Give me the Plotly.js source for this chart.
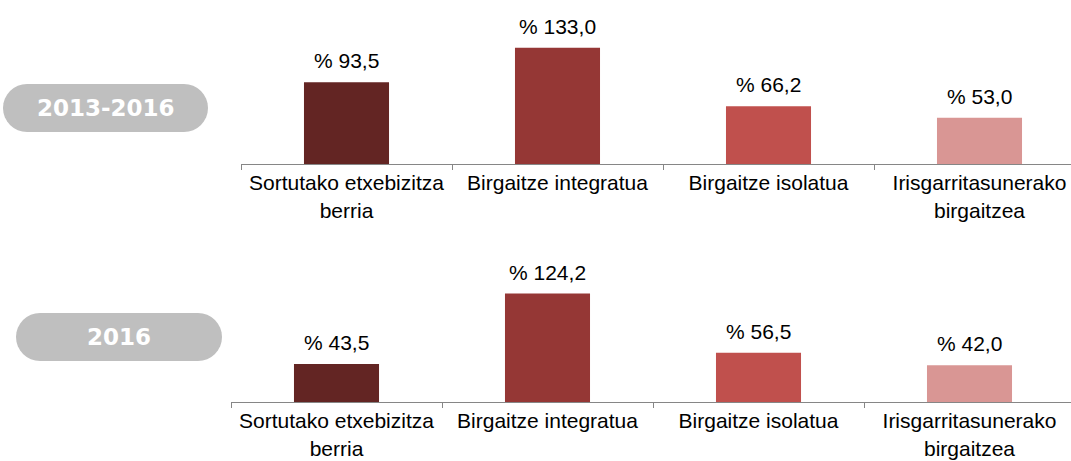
<!DOCTYPE html>
<html>
<head>
<meta charset="utf-8">
<script src="https://cdn.plot.ly/plotly-3.0.1.min.js"></script>
<style>html,body{margin:0;padding:0;background:#fff;}#chart{width:1071px;height:461px;}</style>
</head>
<body>
<div id="chart"></div>
<script>
var categories = ["Sortutako etxebizitza<br>berria", "Birgaitze integratua", "Birgaitze isolatua", "Irisgarritasunerako<br>birgaitzea"];
var values2013_2016 = [93.5, 133.0, 66.2, 53.0];
var values2016 = [43.5, 124.2, 56.5, 42.0];
var periodLabels = ["2013-2016", "2016"];
var barColors = ["#632523", "#953735", "#C0504D", "#D99694"];

function fmt(v) { return "% " + v.toFixed(1).replace(".", ","); }

var traces = [
  {type: "bar", x: categories, y: values2013_2016, xaxis: "x", yaxis: "y",
   marker: {color: barColors}, width: 0.403, hoverinfo: "none", showlegend: false},
  {type: "bar", x: categories, y: values2016, xaxis: "x2", yaxis: "y2",
   marker: {color: barColors}, width: 0.403, hoverinfo: "none", showlegend: false}
];

var annotations = [];
values2013_2016.forEach(function (v, i) {
  annotations.push({xref: "x", yref: "y", x: categories[i], y: v, text: fmt(v), showarrow: false,
    yanchor: "bottom", yshift: 8, font: {family: "Liberation Sans, Arial, sans-serif", size: 21, color: "#000"}});
});
values2016.forEach(function (v, i) {
  annotations.push({xref: "x2", yref: "y2", x: categories[i], y: v, text: fmt(v), showarrow: false,
    yanchor: "bottom", yshift: 8, font: {family: "Liberation Sans, Arial, sans-serif", size: 21, color: "#000"}});
});
// period pill labels
annotations.push({xref: "paper", yref: "paper", x: 105.5 / 1071, y: 1 - 108 / 461, text: periodLabels[0],
  showarrow: false, xanchor: "center", yanchor: "middle",
  font: {family: "DejaVu Sans", size: 23, color: "#fff", weight: "bold"}});
annotations.push({xref: "paper", yref: "paper", x: 119 / 1071, y: 1 - 337 / 461, text: periodLabels[1],
  showarrow: false, xanchor: "center", yanchor: "middle",
  font: {family: "DejaVu Sans", size: 23, color: "#fff", weight: "bold"}});

function pill(x0, y0, x1, y1) {
  var r = (y1 - y0) / 2;
  return {type: "path", xref: "paper", yref: "paper", layer: "below",
    fillcolor: "#BFBFBF", line: {width: 0},
    path: toPaper([
      ["M", x0 + r, y0], ["L", x1 - r, y0],
      ["A", r, r, 0, 0, 1, x1 - r, y1], ["L", x0 + r, y1],
      ["A", r, r, 0, 0, 1, x0 + r, y0], ["Z"]
    ])};
}
function toPaper(cmds) {
  // convert pixel coords to paper fractions
  var W = 1071, H = 461;
  return cmds.map(function (c) {
    if (c[0] === "M" || c[0] === "L") return c[0] + (c[1] / W) + "," + (1 - c[2] / H);
    if (c[0] === "A") return "A" + (c[1] / W) + "," + (c[2] / H) + " 0 0 0 " + (c[6] / W) + "," + (1 - c[7] / H);
    return c[0];
  }).join(" ");
}

var axisCommon = {
  type: "category", tickson: "boundaries", ticks: "outside", ticklen: 5, tickcolor: "#868686",
  showline: true, linecolor: "#868686", linewidth: 1, showgrid: false, zeroline: false,
  tickfont: {family: "Liberation Sans, Arial, sans-serif", size: 21, color: "#000"},
  fixedrange: true, automargin: false
};
var yCommon = {range: [0, 150], visible: false, showgrid: false, zeroline: false, fixedrange: true};

var layout = {
  width: 1071, height: 461,
  margin: {l: 0, r: 0, t: 0, b: 0},
  paper_bgcolor: "#fff", plot_bgcolor: "rgba(0,0,0,0)",
  showlegend: false,
  xaxis: Object.assign({}, axisCommon, {domain: [241 / 1071, 1], range: [-0.5, -0.5 + 830 / 211], anchor: "y"}),
  yaxis: Object.assign({}, yCommon, {domain: [1 - 164 / 461, 1 - 33 / 461], anchor: "x"}),
  xaxis2: Object.assign({}, axisCommon, {domain: [231 / 1071, 1], range: [-0.5, -0.5 + 840 / 211], anchor: "y2"}),
  yaxis2: Object.assign({}, yCommon, {domain: [1 - 402 / 461, 1 - 271 / 461], anchor: "x2"}),
  annotations: annotations,
  shapes: []
};

// pills drawn as rounded rects via SVG-like path in paper coords
function pillShape(x0, y0, x1, y1) {
  var W = 1071, H = 461, r = (y1 - y0) / 2, n = 16, pts = [];
  for (var k = 0; k <= n; k++) { var a = -Math.PI / 2 + Math.PI * k / n; pts.push([x1 - r + r * Math.cos(a), (y0 + y1) / 2 + r * Math.sin(a)]); }
  for (var k2 = 0; k2 <= n; k2++) { var b = Math.PI / 2 + Math.PI * k2 / n; pts.push([x0 + r + r * Math.cos(b), (y0 + y1) / 2 + r * Math.sin(b)]); }
  var d = pts.map(function (p, i) { return (i ? "L" : "M") + (p[0] / W).toFixed(5) + "," + (1 - p[1] / H).toFixed(5); }).join(" ") + " Z";
  return {type: "path", xref: "paper", yref: "paper", layer: "below", fillcolor: "#BFBFBF", line: {width: 0}, path: d};
}
layout.shapes.push(pillShape(3, 84, 208, 132));
layout.shapes.push(pillShape(16, 313, 222, 361));

Plotly.newPlot("chart", traces, layout, {displayModeBar: false, staticPlot: true});
</script>
</body>
</html>
